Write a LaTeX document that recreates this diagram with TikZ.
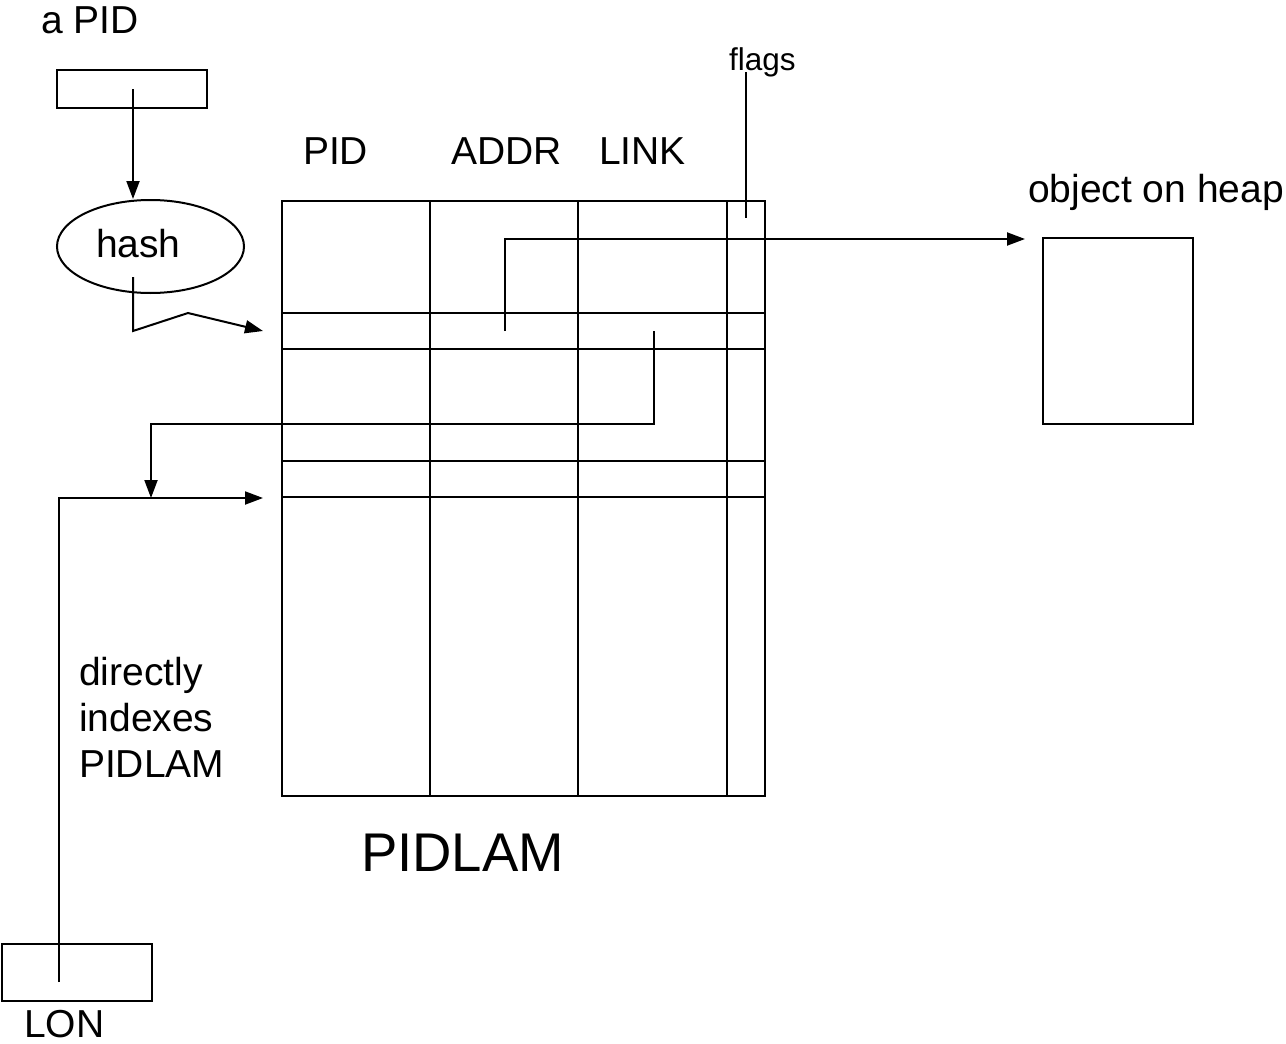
\documentclass[tikz,border=0pt]{standalone}
\usepackage{fontspec}
\setmainfont{Liberation Sans}
\usetikzlibrary{arrows.meta,shapes.geometric}
\begin{document}
\begin{tikzpicture}[x=1pt,y=-1pt,line width=2pt,
  lbl/.style={anchor=base west,inner sep=0pt,font=\fontsize{39}{46}\selectfont},
  smalllbl/.style={anchor=base west,inner sep=0pt,font=\fontsize{31.5}{36}\selectfont},
  biglbl/.style={anchor=base west,inner sep=0pt,font=\fontsize{54.5}{60}\selectfont},
  ptr/.style={-{Triangle[length=18pt,width=13pt]}},
  box/.style={draw,inner sep=0pt,anchor=north west,outer sep=0pt}]
\useasboundingbox (0,0) rectangle (1286,1044);

% incoming PID and the hash function
\node[lbl] (pidlbl) at (40,34) {a PID};
\node[box,minimum width=150pt,minimum height=38pt] (pidbox) at (57,70) {};
\node[draw,ellipse,inner sep=0pt,minimum width=187pt,minimum height=93pt] (hash) at (150.5,246.5) {};
\node[lbl] (hashtxt) at (95,257) {hash};

% the PIDLAM table
\node[box,minimum width=483pt,minimum height=595pt] (tbl) at (282,201) {};
\foreach \cx in {430,578,727} \draw (\cx,201) -- (\cx,796);
\foreach \ry in {313,349,461,497} \draw (282,\ry) -- (765,\ry);
\node[lbl] (colpid) at (302,164) {PID};
\node[lbl] (coladdr) at (450,164) {ADDR};
\node[lbl] (collink) at (598,164) {LINK};
\node[smalllbl] (flags) at (728,70) {flags};
\node[biglbl] (tblname) at (360,871) {PIDLAM};

% heap object
\node[lbl] (heaplbl) at (1027,202) {object on heap};
\node[box,minimum width=150pt,minimum height=186pt] (heap) at (1043,238) {};

% LON and its label
\node[box,minimum width=150pt,minimum height=57pt] (lon) at (2,944) {};
\node[lbl] (lonlbl) at (23,1037) {LON};
\node[lbl,align=left] (idx) at (78,777) {directly\\indexes\\PIDLAM};

% connector end points
\coordinate (pidsrc) at (133,89);
\coordinate (hashsrc) at (133,277);
\coordinate (hashrow) at (263,331);
\coordinate (addrsrc) at (505,331);
\coordinate (heapin) at (1025,239);
\coordinate (linksrc) at (654,331);
\coordinate (linkrow) at (151,498);
\coordinate (lonsrc) at (59,982);
\coordinate (lonrow) at (263,498);
\coordinate (flagsrc) at (746,72);
\coordinate (flagcell) at (746,218);

% connectors
\draw[ptr] (pidsrc) -- (pidsrc |- hash.north);
\draw[ptr] (hashsrc) -- (133,331) -- (188,313) -- (hashrow);
\draw[ptr] (addrsrc) -- (addrsrc |- heapin) -- (heapin);
\draw[ptr] (linksrc) -- (654,424) -- (151,424) -- (linkrow);
\draw[ptr] (lonsrc) -- (lonsrc |- lonrow) -- (lonrow);
\draw (flagsrc) -- (flagcell);
\end{tikzpicture}
\end{document}
